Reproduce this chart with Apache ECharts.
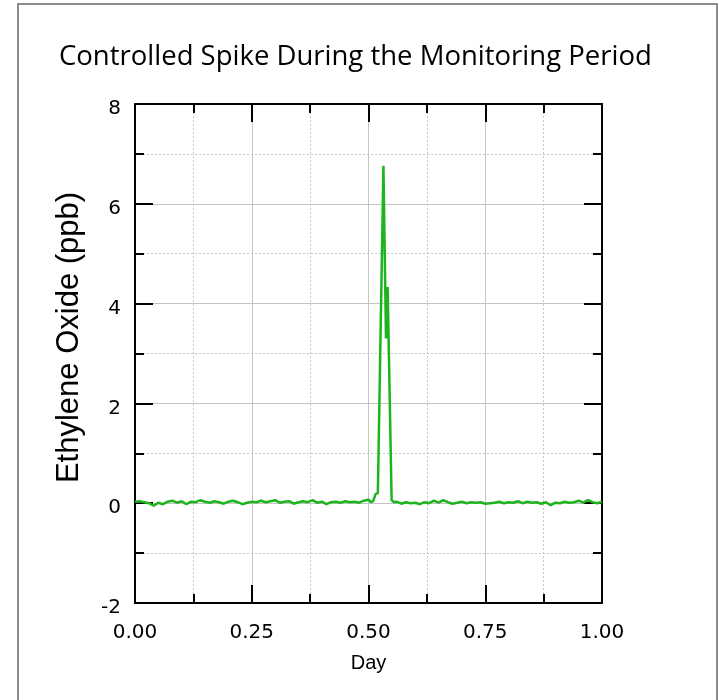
<!DOCTYPE html>
<html>
<head>
<meta charset="utf-8">
<script src="https://cdn.jsdelivr.net/npm/echarts@6/dist/echarts.min.js"></script>
<style>
  html, body { margin: 0; padding: 0; background: #fff; }
  #frame { position: absolute; left: 17px; top: 3px; width: 701px; height: 720px; border: 2px solid #8c8c8c; box-sizing: border-box; }
  #chart { position: absolute; left: 0; top: 0; width: 719px; height: 700px; }
</style>
</head>
<body>
<div id="frame"></div>
<div id="chart"></div>
<script>
// time axis (fraction of a day) and measured ethylene oxide (ppb)
var days = [
  0.00, 0.01, 0.02, 0.03, 0.04, 0.05, 0.06, 0.07, 0.08, 0.09,
  0.10, 0.11, 0.12, 0.13, 0.14, 0.15, 0.16, 0.17, 0.18, 0.19,
  0.20, 0.21, 0.22, 0.23, 0.24, 0.25, 0.26, 0.27, 0.28, 0.29,
  0.30, 0.31, 0.32, 0.33, 0.34, 0.35, 0.36, 0.37, 0.38, 0.39,
  0.40, 0.41, 0.42, 0.43, 0.44, 0.45, 0.46, 0.47, 0.48, 0.49,
  0.50, 0.505, 0.51, 0.515, 0.52, 0.532, 0.5375, 0.541, 0.5445, 0.5495,
  0.555, 0.56, 0.57, 0.58, 0.59, 0.60, 0.61, 0.62, 0.63, 0.64,
  0.65, 0.66, 0.67, 0.68, 0.69, 0.70, 0.71, 0.72, 0.73, 0.74,
  0.75, 0.76, 0.77, 0.78, 0.79, 0.80, 0.81, 0.82, 0.83, 0.84,
  0.85, 0.86, 0.87, 0.88, 0.89, 0.90, 0.91, 0.92, 0.93, 0.94,
  0.95, 0.96, 0.97, 0.98, 0.99, 1.00
];
var eto = [
  0.03, 0.04, 0.02, 0.00, -0.05, 0.01, -0.02, 0.03, 0.05, 0.01,
  0.04, -0.02, 0.03, 0.02, 0.06, 0.03, 0.01, 0.04, 0.02, -0.01,
  0.03, 0.05, 0.02, -0.02, 0.01, 0.03, 0.02, 0.05, 0.02, 0.04,
  0.06, 0.01, 0.03, 0.04, -0.01, 0.02, 0.04, 0.02, 0.06, 0.01,
  0.03, -0.02, 0.02, 0.03, 0.01, 0.04, 0.02, 0.03, 0.01, 0.05,
  0.07, 0.02, 0.04, 0.18, 0.20, 6.76, 3.30, 4.33, 4.30, 0.06,
  0.02, 0.03, -0.01, 0.02, 0.00, 0.01, -0.02, 0.02, 0.00, 0.05,
  0.01, 0.06, 0.02, -0.01, 0.01, 0.03, 0.00, 0.02, 0.01, 0.02,
  -0.01, 0.00, 0.01, 0.03, 0.00, 0.02, 0.01, 0.04, 0.00, 0.03,
  0.01, 0.02, -0.01, 0.02, -0.04, 0.01, 0.00, 0.03, 0.01, 0.02,
  0.05, 0.01, 0.06, 0.02, 0.00, 0.03
];

var chart = echarts.init(document.getElementById('chart'));

var tickFont = { fontFamily: 'DejaVu Sans', fontSize: 20, color: '#000' };
var axisLine = { show: true, onZero: false, lineStyle: { color: '#000', width: 2 } };
var majorTick = { show: true, inside: true, length: 18, lineStyle: { color: '#000', width: 2 } };
var minorTick = { show: true, splitNumber: 2, length: 9, lineStyle: { color: '#000', width: 2 } };

var pts = days.map(function (d, i) { return [d, eto[i]]; });

var option = {
  animation: false,
  backgroundColor: 'transparent',
  title: {
    text: 'Controlled Spike During the Monitoring Period',
    left: 54,
    top: 38,
    textStyle: { fontFamily: 'Open Sans', fontSize: 27.5, fontWeight: 'normal', color: '#000' }
  },
  grid: { left: 135, right: 117, top: 104, bottom: 97 },
  xAxis: [
    {
      type: 'value', min: 0, max: 1, interval: 0.25, position: 'bottom',
      name: 'Day', nameLocation: 'middle', nameGap: 50,
      nameTextStyle: { fontFamily: 'Liberation Sans', fontSize: 20, color: '#000' },
      axisLine: axisLine, axisTick: majorTick, minorTick: minorTick,
      axisLabel: Object.assign({ margin: 20, formatter: function (v) { return v.toFixed(2); } }, tickFont),
      splitLine: { show: true, lineStyle: { color: '#c4c4c4', width: 1 } },
      minorSplitLine: { show: true, lineStyle: { color: '#c8c8c8', width: 1, type: [2, 2] } }
    },
    {
      type: 'value', min: 0, max: 1, interval: 0.25, position: 'top',
      axisLine: axisLine, axisTick: majorTick, minorTick: minorTick,
      axisLabel: { show: false }, splitLine: { show: false }
    }
  ],
  yAxis: [
    {
      type: 'value', min: -2, max: 8, interval: 2, position: 'left',
      name: 'Ethylene Oxide (ppb)', nameLocation: 'middle', nameGap: 50, nameRotate: 90,
      nameTextStyle: { fontFamily: 'Liberation Sans', fontSize: 31, color: '#000', padding: [0, 0, 0, 32] },
      axisLine: axisLine, axisTick: majorTick, minorTick: minorTick,
      axisLabel: Object.assign({ margin: 14, verticalAlign: 'top', lineHeight: 10 }, tickFont),
      splitLine: { show: true, lineStyle: { color: '#c4c4c4', width: 1 } },
      minorSplitLine: { show: true, lineStyle: { color: '#c8c8c8', width: 1, type: [2, 2] } }
    },
    {
      type: 'value', min: -2, max: 8, interval: 2, position: 'right',
      axisLine: axisLine, axisTick: majorTick, minorTick: minorTick,
      axisLabel: { show: false }, splitLine: { show: false }
    }
  ],
  series: [
    {
      type: 'line',
      xAxisIndex: 0, yAxisIndex: 0,
      data: pts,
      showSymbol: false,
      lineStyle: { color: '#1db41d', width: 2.5 },
      z: 3
    }
  ]
};

chart.setOption(option);
</script>
</body>
</html>
